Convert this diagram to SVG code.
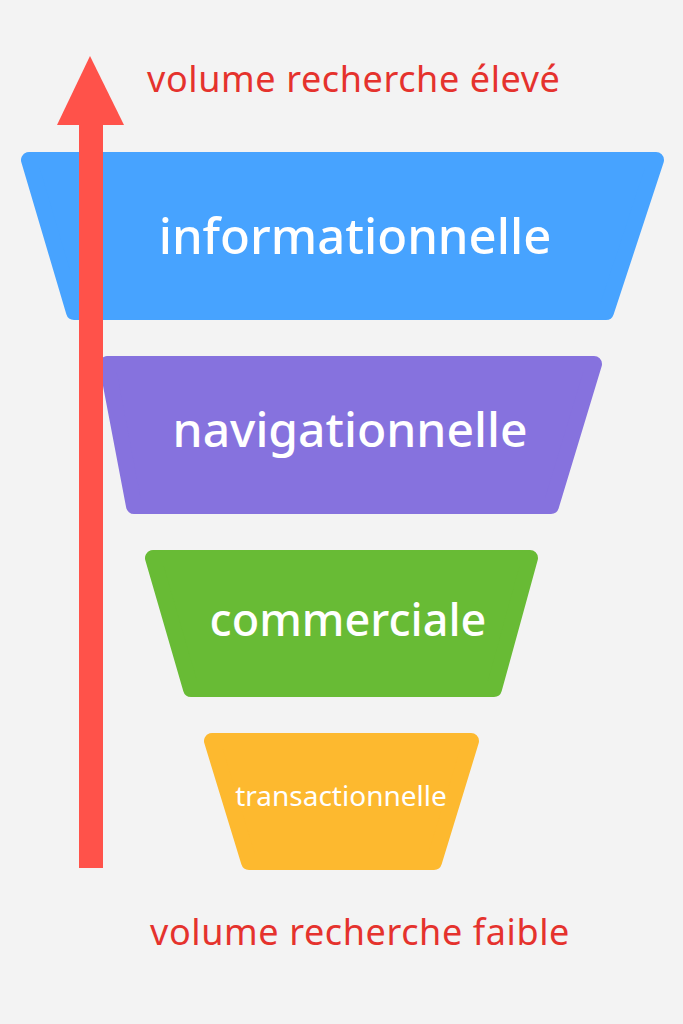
<svg xmlns="http://www.w3.org/2000/svg" width="683" height="1024" viewBox="0 0 683 1024">
<style>
.tier{stroke-width:16;stroke-linejoin:round}
.lbl{font-family:"Noto Sans","Open Sans",sans-serif;fill:#ffffff;text-anchor:middle;font-weight:500}
.side{font-family:"Noto Sans","Open Sans",sans-serif;fill:#E5322D;font-size:36px;letter-spacing:0.6px}
</style>
<rect width="683" height="1024" fill="#F3F3F3"/>
<g id="informationnelle">
<polygon class="tier" fill="#47A3FF" stroke="#47A3FF" points="29,160 656,160 606,312 74,312"/>
<text class="lbl" x="355" y="254" font-size="49">informationnelle</text>
</g>
<g id="navigationnelle">
<polygon class="tier" fill="#8672DE" stroke="#8672DE" points="107,364 594,364 551,506 134,506"/>
<text class="lbl" x="350" y="447" font-size="48">navigationnelle</text>
</g>
<g id="commerciale">
<polygon class="tier" fill="#68BB35" stroke="#68BB35" points="153,558 530,558 494,689 191,689"/>
<text class="lbl" x="348" y="636" font-size="45">commerciale</text>
</g>
<g id="transactionnelle">
<polygon class="tier" fill="#FDB92F" stroke="#FDB92F" points="212,741 471,741 434,862 249,862"/>
<text class="lbl" x="341" y="806" font-size="28" style="font-weight:400">transactionnelle</text>
</g>
<g id="connectors">
<rect x="79" y="122" width="24" height="746" fill="#FF524A"/>
<polygon points="57,125 124,125 90,56" fill="#FF524A"/>
</g>
<text class="side" x="147" y="92">volume recherche élevé</text>
<text class="side" x="150" y="945">volume recherche faible</text>
</svg>
